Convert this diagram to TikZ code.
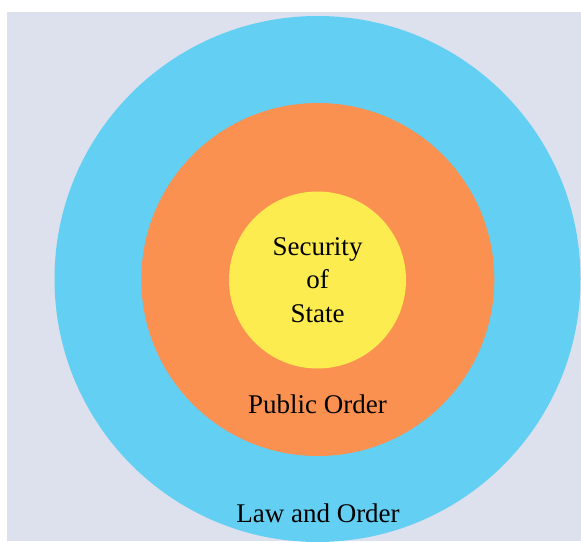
\documentclass[tikz,border=0pt]{standalone}
\usepackage{fontspec}
\setmainfont{Liberation Serif}
\definecolor{bgc}{RGB}{220,225,237}
\definecolor{bluec}{RGB}{99,207,242}
\definecolor{orangec}{RGB}{250,145,80}
\definecolor{yellowc}{RGB}{253,236,80}
\tikzset{
  ring/.style={circle, inner sep=0pt, minimum size=#1},
  lbl/.style={font=\fontsize{27}{33.5}\selectfont, text=black, align=center, inner sep=0pt, anchor=base}
}
\begin{document}
\begin{tikzpicture}[x=1pt,y=-1pt]
\useasboundingbox (0,0) rectangle (581,541);
\fill[white] (0,0) rectangle (581,541);
\fill[bgc] (7,12) rectangle (581,541);
\begin{scope}
\clip (7,12) rectangle (581,541);
\node[ring=526pt, fill=bluec] (law) at (317.5,279) {};
\end{scope}
\node[ring=353pt, fill=orangec] (pub) at (317.8,279.5) {};
\node[ring=177pt, fill=yellowc] (sec) at (317.5,280) {};
\node[lbl] (t1) at (317.5,255) {Security};
\node[lbl] (t2) at (317.5,288.5) {of};
\node[lbl] (t3) at (317.5,322) {State};
\node[lbl] (t4) at (317.5,413) {Public Order};
\node[lbl] (t5) at (318,522) {Law and Order};
\end{tikzpicture}
\end{document}
